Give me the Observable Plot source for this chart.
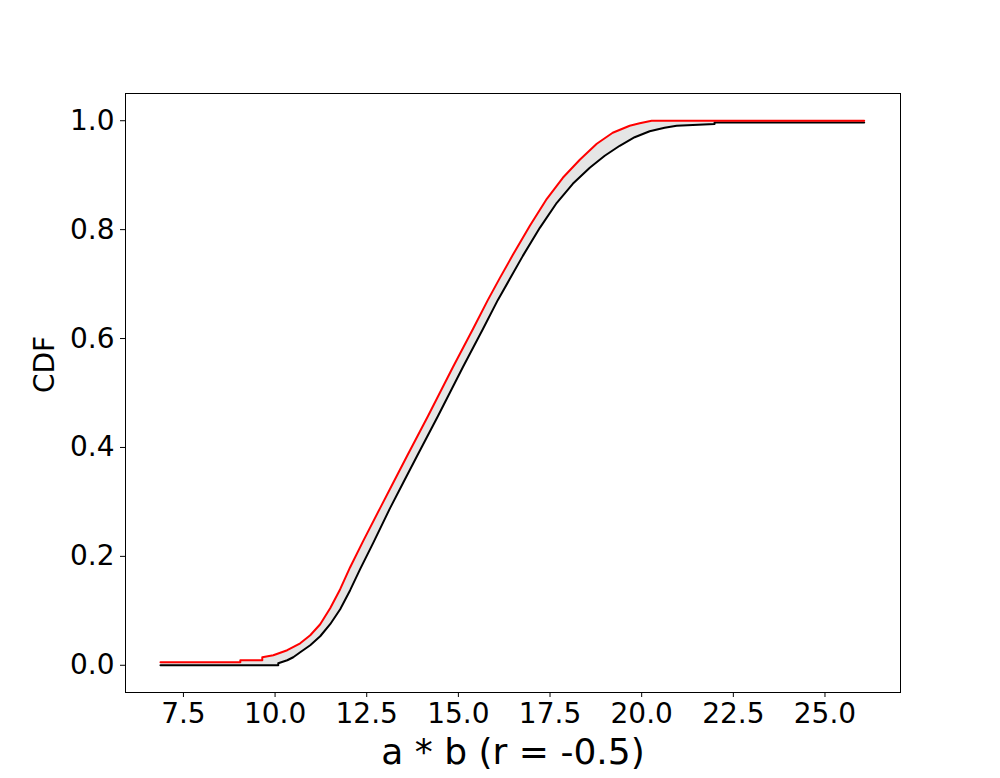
<!DOCTYPE html>
<html>
<head>
<meta charset="utf-8">
<script src="https://cdn.jsdelivr.net/npm/d3@7"></script>
<script src="https://cdn.jsdelivr.net/npm/@observablehq/plot@0.6"></script>
<style>
  html, body { margin: 0; padding: 0; background: #fff; }
</style>
</head>
<body>
<div id="chart"></div>
<script>
// Upper CDF bound (red)
const redX = [6.874, 9.052, 9.052, 9.651, 9.651, 9.951, 10.332, 10.686, 10.959, 11.231, 11.503, 11.776, 12.048, 12.402, 12.865, 13.219, 13.600, 14.172, 14.853, 15.398, 15.806, 16.133, 16.487, 16.950, 17.413, 17.849, 18.312, 18.775, 19.210, 19.673, 19.946, 20.272, 26.07];
const redY = [0.0055, 0.0055, 0.0092, 0.0092, 0.0147, 0.0184, 0.0276, 0.0404, 0.0551, 0.0754, 0.1048, 0.1397, 0.1801, 0.2279, 0.2886, 0.3346, 0.3842, 0.4577, 0.5478, 0.6176, 0.6710, 0.7114, 0.7537, 0.8070, 0.8566, 0.8952, 0.9283, 0.9577, 0.9779, 0.9908, 0.9954, 1.0, 1.0];

// Lower CDF bound (black)
const blackX = [6.874, 10.087, 10.087, 10.332, 10.496, 10.686, 10.959, 11.231, 11.503, 11.776, 12.048, 12.320, 12.674, 13.137, 13.491, 13.873, 14.444, 15.125, 15.670, 16.078, 16.405, 16.759, 17.222, 17.685, 18.121, 18.584, 18.992, 19.401, 19.809, 20.218, 20.626, 20.953, 21.988, 21.988, 26.07];
const blackY = [0.0, 0.0, 0.0037, 0.0092, 0.0147, 0.0239, 0.0368, 0.0533, 0.0754, 0.1029, 0.1379, 0.1765, 0.2243, 0.2886, 0.3346, 0.3842, 0.4577, 0.5478, 0.6176, 0.6710, 0.7096, 0.7518, 0.8033, 0.8493, 0.8842, 0.9136, 0.9357, 0.9540, 0.9697, 0.9807, 0.9871, 0.9908, 0.9939, 0.9969, 0.9969];

const xTicks = [7.5, 10.0, 12.5, 15.0, 17.5, 20.0, 22.5, 25.0];
const yTicks = [0.0, 0.2, 0.4, 0.6, 0.8, 1.0];
const xLabel = "a * b (r = -0.5)";
const yLabel = "CDF";

const red = redX.map((x, i) => ({x, y: redY[i]}));
const black = blackX.map((x, i) => ({x, y: blackY[i]}));
const band = red.concat(black.slice().reverse());

const chart = Plot.plot({
  width: 1000,
  height: 778,
  marginLeft: 125,
  marginRight: 100,
  marginTop: 93,
  marginBottom: 86,
  style: { fontFamily: "DejaVu Sans", background: "#fff", color: "#000" },
  x: { domain: [5.92, 27.06] },
  y: { domain: [-0.05, 1.05] },
  marks: [
    Plot.line(band, { x: "x", y: "y", fill: "#e5e5e5", stroke: "none", curve: "linear" }),
    Plot.line(black, { x: "x", y: "y", stroke: "black", strokeWidth: 2, curve: "linear" }),
    Plot.line(red, { x: "x", y: "y", stroke: "red", strokeWidth: 2, curve: "linear" }),
    Plot.frame({ stroke: "black", strokeWidth: 1 }),
    Plot.axisX({ ticks: xTicks, tickFormat: d => d.toFixed(1), tickSize: 5, tickPadding: 6, fontSize: 28, label: null }),
    Plot.axisY({ ticks: yTicks, tickFormat: d => d.toFixed(1), tickSize: 5, tickPadding: 6, fontSize: 28, label: null }),
    Plot.text([xLabel], { frameAnchor: "bottom", text: d => d, dy: 60, lineAnchor: "middle", fontSize: 36 }),
    Plot.text([yLabel], { frameAnchor: "left", text: d => d, dx: -80, rotate: -90, lineAnchor: "middle", fontSize: 28 })
  ]
});
document.getElementById("chart").appendChild(chart);
</script>
</body>
</html>
